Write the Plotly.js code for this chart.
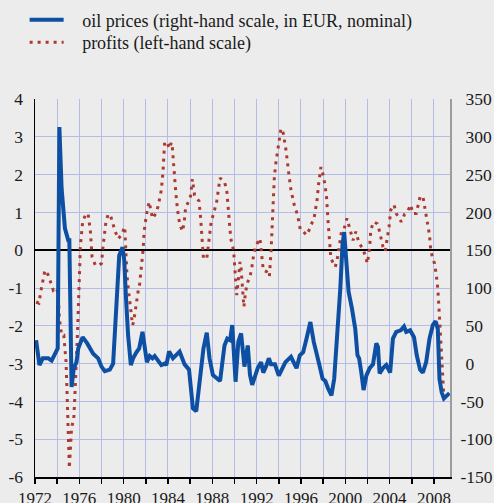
<!DOCTYPE html>
<html>
<head>
<meta charset="utf-8">
<script src="https://cdn.plot.ly/plotly-3.0.1.min.js"></script>
<style>
  html, body { margin: 0; padding: 0; background: #ececec; }
  #chart { width: 494px; height: 503px; }
</style>
</head>
<body>
<div id="chart"></div>
<script>
// Profits (left-hand scale) — decimal years and values
const profitYears = [1972.1,1972.35,1972.6,1972.9,1973.2,1973.4,1973.65,1973.95,1974.1,1974.2,1974.4,1974.6,1974.8,1974.9,1975.0,1975.1,1975.3,1975.5,1975.6,1975.75,1975.85,1976.0,1976.1,1976.3,1976.6,1976.8,1977.0,1977.15,1977.45,1977.75,1978.0,1978.15,1978.4,1978.6,1978.8,1979.2,1979.5,1979.8,1980.1,1980.2,1980.3,1980.45,1980.65,1980.8,1980.9,1981.1,1981.3,1981.45,1981.6,1981.75,1981.85,1982.05,1982.3,1982.6,1982.9,1983.1,1983.4,1983.55,1983.7,1983.9,1984.15,1984.3,1984.4,1984.5,1984.7,1984.85,1985.05,1985.3,1985.45,1985.6,1985.9,1986.05,1986.2,1986.4,1986.8,1986.95,1987.05,1987.2,1987.5,1987.7,1987.9,1988.2,1988.4,1988.7,1989.1,1989.3,1989.45,1989.6,1989.7,1989.85,1989.95,1990.0,1990.1,1990.2,1990.3,1990.5,1990.6,1990.7,1990.85,1991.0,1991.2,1991.4,1991.55,1991.75,1991.95,1992.3,1992.45,1992.6,1992.9,1993.15,1993.3,1993.4,1993.45,1993.6,1993.75,1994.0,1994.2,1994.4,1994.65,1994.9,1995.1,1995.4,1995.7,1995.95,1996.2,1996.5,1996.8,1997.2,1997.45,1997.6,1997.8,1998.05,1998.3,1998.45,1998.6,1998.7,1999.1,1999.35,1999.65,1999.9,2000.15,2000.4,2000.7,2000.95,2001.25,2001.6,2001.85,2002.0,2002.2,2002.3,2002.55,2002.9,2003.1,2003.25,2003.4,2003.6,2003.85,2003.95,2004.1,2004.4,2004.6,2005.05,2005.35,2005.6,2005.9,2006.1,2006.4,2006.55,2006.75,2007.0,2007.15,2007.3,2007.45,2007.6,2007.7,2007.85,2008.05,2008.2,2008.35,2008.45,2008.55,2008.7,2008.8,2008.9];
const profitValues = [-1.37,-1.4,-0.97,-0.53,-0.66,-0.87,-1.06,-1.0,-1.2,-1.8,-2.25,-2.25,-2.95,-3.84,-4.7,-5.77,-4.7,-4.45,-3.84,-2.95,-2.07,-0.75,0.13,0.75,0.97,0.95,0.49,-0.18,-0.4,-0.4,-0.35,0.13,0.75,0.95,0.93,0.53,0.3,0.4,0.62,-0.04,-0.66,-1.1,-1.54,-1.98,-1.9,-1.46,-1.1,-0.88,-0.48,0,0.49,0.93,1.28,0.84,0.97,1.15,1.59,2.07,2.87,2.84,2.69,2.85,2.7,2.25,1.54,1.1,0.7,0.5,0.7,1.15,1.3,1.45,1.88,1.45,1.3,0.84,0.4,-0.22,-0.22,0.22,0.75,1.06,1.3,1.91,1.8,1.6,0.97,0.53,0.26,0.09,-0.13,-0.31,-0.79,-1.19,-0.93,-0.31,-0.49,-0.93,-1.5,-1.1,-0.84,-0.7,-0.49,-0.09,0.13,0.31,-0.13,-0.53,-0.57,-0.7,-0.04,0.57,1.19,1.94,2.34,2.78,3.22,3.1,2.65,2.03,1.59,1.19,0.93,0.53,0.5,0.4,0.57,0.88,1.32,1.76,2.2,1.94,1.45,0.75,0.22,-0.22,-0.44,-0.13,0.49,0.57,0.84,0.57,0.26,0.49,0.18,0.04,-0.18,-0.35,0.09,0.53,0.75,0.7,0.49,0.31,0.09,-0.03,0.4,0.62,1.06,1.2,0.97,0.75,0.95,1.01,1.2,0.97,0.97,1.19,1.41,1.43,1.19,1.01,0.66,0.4,0.04,-0.18,-0.35,-0.62,-1.02,-1.5,-2.07,-2.95,-3.66,-3.9];

// Oil prices (right-hand scale, in EUR, nominal)
const oilYears = [1972.1,1972.4,1972.7,1973.2,1973.5,1973.9,1974.05,1974.2,1974.4,1974.7,1975.0,1975.1,1975.3,1975.5,1975.75,1975.9,1976.3,1976.7,1977.25,1977.7,1978.0,1978.3,1978.75,1979.05,1979.4,1979.6,1979.9,1980.05,1980.2,1980.4,1980.65,1980.85,1981.15,1981.4,1981.7,1981.9,1982.1,1982.35,1982.6,1982.8,1983.1,1983.4,1983.7,1983.85,1984.1,1984.45,1985.05,1985.5,1985.9,1986.1,1986.25,1986.55,1986.85,1987.2,1987.5,1987.75,1988.05,1988.4,1988.7,1989.1,1989.35,1989.6,1989.8,1990.1,1990.35,1990.6,1990.9,1991.2,1991.4,1991.6,1992.1,1992.4,1992.6,1992.9,1993.1,1993.3,1993.65,1994.0,1994.4,1994.6,1995.1,1995.6,1995.9,1996.2,1996.5,1996.85,1997.15,1997.45,1997.6,1997.95,1998.2,1998.45,1998.75,1999.0,1999.3,1999.55,1999.75,1999.9,2000.1,2000.3,2000.6,2000.9,2001.1,2001.25,2001.45,2001.65,2001.9,2002.2,2002.5,2002.8,2002.95,2003.1,2003.4,2003.7,2004.05,2004.3,2004.6,2005.0,2005.3,2005.5,2005.85,2006.2,2006.45,2006.75,2007.0,2007.3,2007.6,2007.9,2008.15,2008.35,2008.5,2008.7,2008.9,2009.2,2009.4];
const oilValues = [31,-2,7,7,4,15,20,313,232,179,163,163,-31,-6.5,2,20,35,27,13,7,-4,-10,-8,0,99,143,154,137,90,38,-2,7,15,20,42,20,2,10,7,10,4,-2,0,-2,16,7,16,-1,-8,-42,-59,-63,-20,20,41,7,-15,-20,-23,24,33,31,51,-24,29,40,-4,24,-15,-28,-6,2,-12,-2,7,-1,-1,-16,-4,2,9,-6,11,15,33,55,29,7,2,-20,-23,-33,-42,-20,38,99,157,174,134,95,73,46,11,7,-12,-35,-16,-6,-1,27,22,-13,-6,-2,-12,33,42,44,49,42,44,35,11,-8,-12,2,33,51,56,46,-20,-38,-46,-42,-39];

const xTickVals = [1972,1974,1976,1978,1980,1982,1984,1986,1988,1990,1992,1994,1996,1998,2000,2002,2004,2006,2008];
const xTickText = ['1972','','1976','','1980','','1984','','1988','','1992','','1996','','2000','','2004','','2008'];
const leftTicks = [-6,-5,-4,-3,-2,-1,0,1,2,3,4];
const leftTickText = ['-6','-5','-4','-3','-2','-1','0','1','2','3','4'];
const rightTicks = [-150,-100,-50,0,50,100,150,200,250,300,350];
const rightTickText = ['-150','-100','-50','\u2009\u200a0','\u2009\u200a50','\u2009\u200a100','\u2009\u200a150','\u2009\u200a200','\u2009\u200a250','\u2009\u200a300','\u2009\u200a350'];

const serif = 'Liberation Serif';
const gridCol = '#b4bde6';
const gap = '\u00a0\u00a0\u00a0';
const legFont = {family: serif, size: 18, color: '#1a1a1a'};
const tickFont = {family: serif, size: 17.5, color: '#1a1a1a'};

const traces = [
  {
    x: oilYears, y: oilValues, yaxis: 'y2', type: 'scatter', mode: 'lines',
    name: gap + 'oil prices (right-hand scale, in EUR, nominal)',
    legend: 'legend',
    line: {color: '#0d4fa3', width: 4}
  },
  {
    x: profitYears, y: profitValues, yaxis: 'y', type: 'scatter', mode: 'lines',
    name: gap + 'profits (left-hand scale)',
    legend: 'legend2',
    line: {color: '#ab3a30', width: 3, dash: '3px,5px'}
  }
];

const layout = {
  width: 494, height: 503,
  paper_bgcolor: '#ececec', plot_bgcolor: '#ececec',
  margin: {l: 35, r: 44, t: 99, b: 26, pad: 0, autoexpand: false},
  font: {family: serif, size: 17, color: '#1a1a1a'},
  showlegend: true,
  legend: {
    x: -0.025, y: 1.258, xanchor: 'left', yanchor: 'top',
    bgcolor: 'rgba(0,0,0,0)', font: legFont, itemwidth: 34
  },
  legend2: {
    x: -0.025, y: 1.198, xanchor: 'left', yanchor: 'top',
    bgcolor: 'rgba(0,0,0,0)', font: legFont, itemwidth: 34
  },
  xaxis: {
    range: [1972, 2009.45], tickvals: xTickVals, ticktext: xTickText,
    showgrid: true, gridcolor: gridCol, gridwidth: 1,
    ticks: 'outside', ticklen: 5, tickcolor: '#000', tickwidth: 1.5,
    showline: true, linecolor: '#000', linewidth: 1.5, automargin: false,
    zeroline: false, tickfont: {family: serif, size: 17, color: '#1a1a1a'}, tickangle: 0
  },
  yaxis: {
    range: [-6, 4], tickvals: leftTicks, ticktext: leftTickText, automargin: false,
    showgrid: true, gridcolor: gridCol, gridwidth: 1,
    zeroline: true, zerolinecolor: '#000', zerolinewidth: 1.5,
    showline: true, linecolor: '#000', linewidth: 1.5,
    ticks: '', ticklabelstandoff: 7, tickfont: tickFont
  },
  yaxis2: {
    range: [-150, 350], tickvals: rightTicks, ticktext: rightTickText,
    overlaying: 'y', side: 'right',
    showgrid: false, zeroline: false, automargin: false,
    showline: true, linecolor: '#9c9c9c', linewidth: 2,
    ticks: '', ticklabelstandoff: 5, tickfont: tickFont
  }
};

Plotly.newPlot('chart', traces, layout, {displayModeBar: false, staticPlot: true});
</script>
</body>
</html>
